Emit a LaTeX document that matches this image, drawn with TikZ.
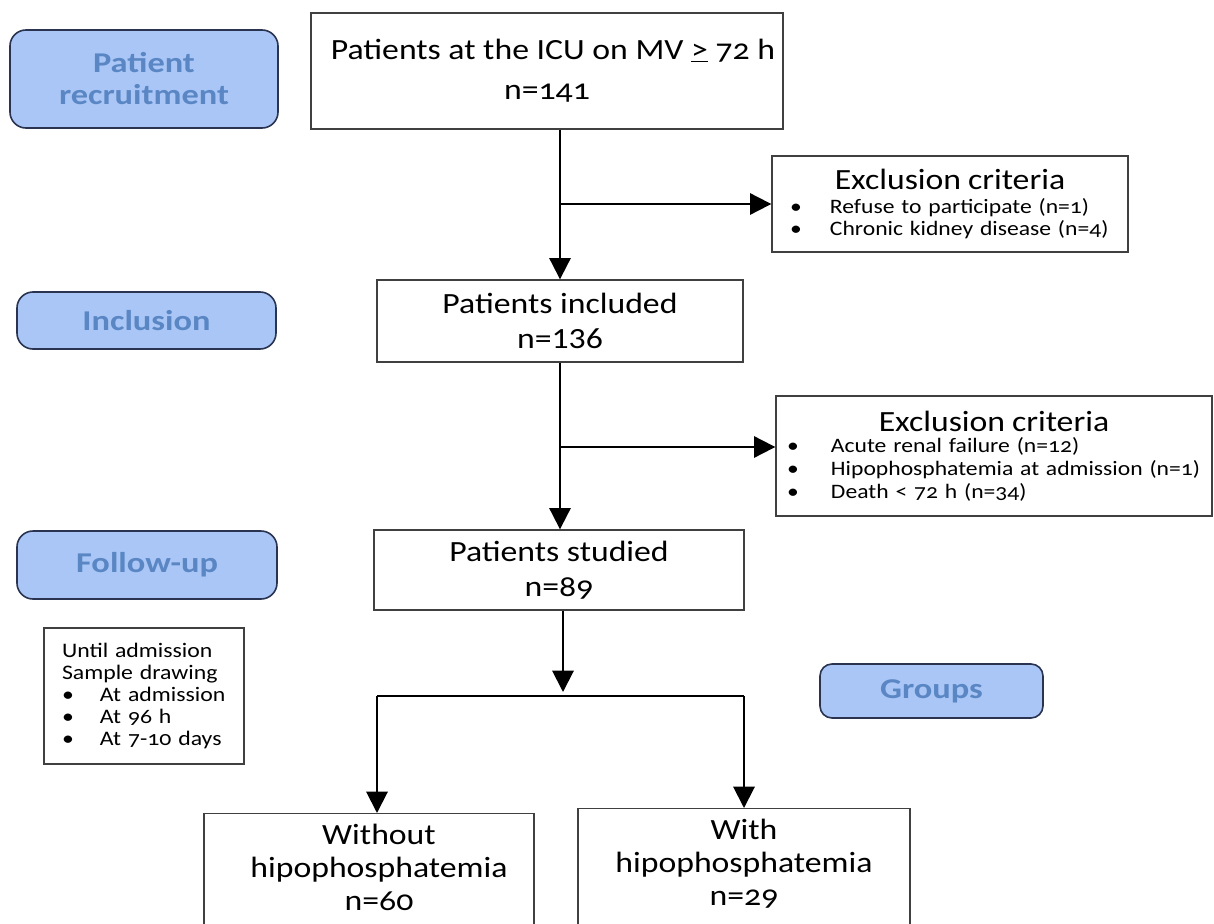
\documentclass[tikz,border=0pt]{standalone}
\usepackage{fontspec}
\setmainfont{Carlito}[Numbers=OldStyle, FakeStretch=1.15]
\newfontfamily\lblfont{Carlito}[FakeStretch=1.2]
\newfontfamily\liningfont{Carlito}[Numbers=Lining, FakeStretch=1.15]
\usetikzlibrary{arrows.meta,calc}
\definecolor{lblfill}{HTML}{A9C6F6}
\definecolor{lbltext}{HTML}{5A87C4}
\definecolor{lblborder}{HTML}{2A3450}
\tikzset{
  box/.style={draw=black!75, line width=1pt, fill=white, inner sep=0pt},
  lbl/.style={draw=lblborder, line width=1.2pt, fill=lblfill, rounded corners=12pt,
    text=lbltext, font=\lblfont\bfseries\fontsize{21.5}{24}\selectfont, align=center, inner sep=0pt},
  arr/.style={line width=1.5pt, -{Triangle[width=16pt,length=16pt]}},
  ln/.style={line width=1.5pt},
}
\newcommand{\bul}[1]{\makebox[#1][l]{\textbullet}}
\begin{document}
\begin{tikzpicture}[x=0.75pt,y=-0.75pt]
\useasboundingbox (0,0) rectangle (1214,924);
% label boxes
\node[lbl, minimum width=201pt, minimum height=73.5pt] (recruit) at (144,79) {Patient\\recruitment};
\node[lbl, minimum width=194.25pt, minimum height=42.75pt] (incl) at (146.5,320.5) {Inclusion};
\node[lbl, minimum width=195pt, minimum height=51pt] (follow) at (147,565) {Follow-up};
\node[lbl, minimum width=167.25pt, minimum height=40.5pt, rounded corners=9pt] (groups) at (931.5,691) {Groups};
% main boxes
\node[box, minimum width=354pt, minimum height=87pt, align=center,
  font=\fontsize{22}{30}\selectfont] (top) at (547,71)
  {\hspace*{9pt}Patients at the ICU on MV \underline{>} 72 h\\n=141};
\node[box, minimum width=274.5pt, minimum height=61.5pt, align=center,
  font=\fontsize{22}{26}\selectfont] (included) at (560,321)
  {Patients included\\{\liningfont n=136}};
\node[box, minimum width=277.5pt, minimum height=60pt, align=center,
  font=\fontsize{22}{26}\selectfont] (studied) at (559,570)
  {Patients studied\\n=89};
\node[box, minimum width=267pt, minimum height=72pt, text width=240pt, inner xsep=13.5pt,
  align=left, font=\fontsize{15.4}{16.5}\selectfont] (excl1) at (950,204)
  {\makebox[\linewidth][c]{\fontsize{22}{22}\selectfont Exclusion criteria}\\[2pt]
   \bul{30pt}Refuse to participate (n=1)\\
   \bul{30pt}Chronic kidney disease (n=4)};
\node[box, minimum width=327pt, minimum height=90pt, text width=310.5pt, inner xsep=8.25pt,
  align=left, font=\fontsize{15.4}{17}\selectfont] (excl2) at (994,456)
  {\makebox[\linewidth][c]{\fontsize{22}{22}\selectfont Exclusion criteria}\\[-1pt]
   \bul{33pt}Acute renal failure (n=12)\\
   \bul{33pt}Hipophosphatemia at admission (n=1)\\
   \bul{33pt}Death < 72 h (n=34)};
\node[box, minimum width=150pt, minimum height=102pt, text width=123pt, inner xsep=13.5pt,
  align=left, font=\fontsize{15.5}{16.5}\selectfont] (sample) at (144,696)
  {Until admission\\Sample drawing\\
   \bul{28.5pt}At admission\\
   \bul{28.5pt}At 96 h\\
   \bul{28.5pt}At 7-10 days};
\node[box, anchor=north, minimum width=247.5pt, minimum height=90pt] (without) at (369,813) {};
\node[align=center, font=\fontsize{22}{25}\selectfont, anchor=north, yshift=-4.5pt, xshift=7.5pt] (withouttext) at (without.north)
  {Without\\hipophosphatemia\\n=60};
\node[box, anchor=north, minimum width=249pt, minimum height=92pt] (with) at (744,808) {};
\node[align=center, font=\fontsize{22}{25}\selectfont, anchor=north, yshift=-4.5pt] (withtext) at (with.north)
  {With\\hipophosphatemia\\n=29};
% connectors
\draw[arr] (included.north |- top.south) -- (included.north);
\draw[arr] (excl1.west -| included.north) -- (excl1.west);
\draw[arr] (included.south) -- (included.south |- studied.north);
\coordinate (e2) at ($(excl2.west)+(0,-9)$);
\draw[arr] (e2 -| included.south) -- (e2);
\coordinate (split) at (563,696);
\coordinate (sl) at (377,696);
\coordinate (sr) at (744,696);
\draw[arr] (split |- studied.south) -- ($(split)+(0,-4)$);
\draw[ln] (sl) -- (sr);
\draw[arr] (sl) -- (sl |- without.north);
\draw[arr] (sr) -- (with.north);
\end{tikzpicture}
\end{document}
